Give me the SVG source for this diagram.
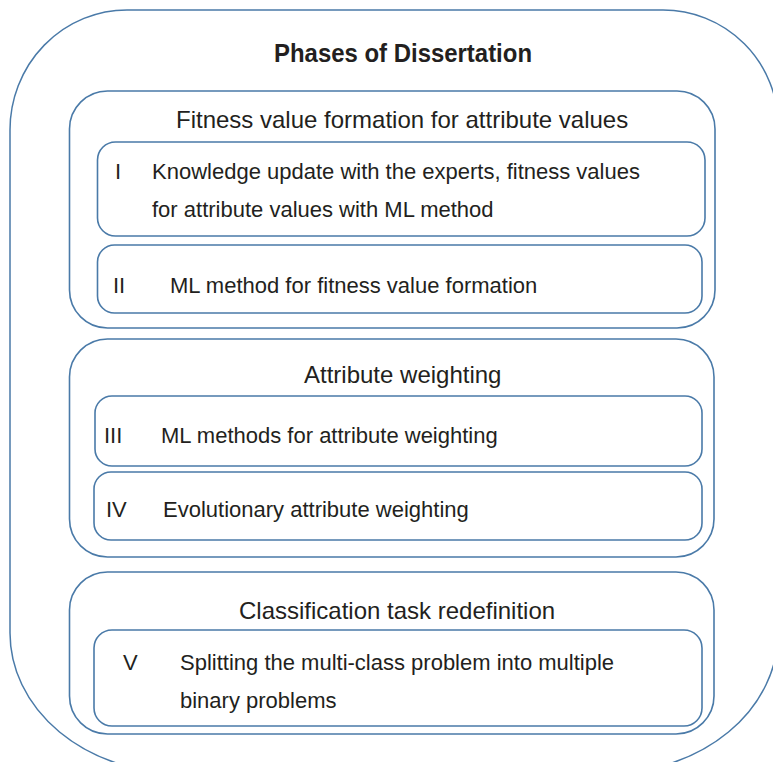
<svg xmlns="http://www.w3.org/2000/svg" width="773" height="762" viewBox="0 0 773 762">
<style>
.frame{fill:none;stroke:#4a7aa8;stroke-width:1.5}
.grp{fill:#fff;stroke:#4a7aa8;stroke-width:1.6}
.box{fill:#fff;stroke:#4a7aa8;stroke-width:1.6}
text{font-family:"Liberation Sans",Arial,sans-serif;fill:#231f20}
.title{font-size:25px;font-weight:bold}
.head{font-size:24px}
.body{font-size:22px}
</style>
<rect width="773" height="762" fill="#fff"/>
<g id="frame">
<path class="frame" d="M127 10 H663 A115 115 0 0 1 778 125 V633 A169 140 0 0 1 609 773 H179 A169 140 0 0 1 10 633 V130 A117 120 0 0 1 127 10 Z"/>
<text class="title" x="274" y="62" textLength="258" lengthAdjust="spacingAndGlyphs">Phases of Dissertation</text>
</g>
<g id="group-fitness">
<rect class="grp" x="69.5" y="91" width="645.5" height="237" rx="38" ry="38"/>
<text class="head" x="176" y="128">Fitness value formation for attribute values</text>
</g>
<g id="phase-I">
<rect class="box" x="97.5" y="142" width="607.5" height="94" rx="18" ry="18"/>
<text class="body" x="115" y="179">I</text>
<text class="body" x="152" y="179">Knowledge update with the experts, fitness values</text>
<text class="body" x="152" y="217">for attribute values with ML method</text>
</g>
<g id="phase-II">
<rect class="box" x="97.5" y="245" width="604.5" height="68" rx="17" ry="17"/>
<text class="body" x="113" y="293">II</text>
<text class="body" x="170" y="293">ML method for fitness value formation</text>
</g>
<g id="group-weighting">
<rect class="grp" x="69.5" y="339" width="644.5" height="218" rx="38" ry="38"/>
<text class="head" x="304" y="383">Attribute weighting</text>
</g>
<g id="phase-III">
<rect class="box" x="95" y="396" width="607" height="70" rx="17" ry="17"/>
<text class="body" x="104" y="443">III</text>
<text class="body" x="161" y="443">ML methods for attribute weighting</text>
</g>
<g id="phase-IV">
<rect class="box" x="94" y="472" width="608" height="68" rx="17" ry="17"/>
<text class="body" x="106" y="517">IV</text>
<text class="body" x="163" y="517">Evolutionary attribute weighting</text>
</g>
<g id="group-classification">
<rect class="grp" x="69.5" y="572" width="644.5" height="162" rx="38" ry="38"/>
<text class="head" x="239" y="619">Classification task redefinition</text>
</g>
<g id="phase-V">
<rect class="box" x="94" y="630" width="608" height="96" rx="18" ry="18"/>
<text class="body" x="123" y="670">V</text>
<text class="body" x="180" y="670">Splitting the multi-class problem into multiple</text>
<text class="body" x="180" y="708">binary problems</text>
</g>
<g id="connectors"/>
</svg>
